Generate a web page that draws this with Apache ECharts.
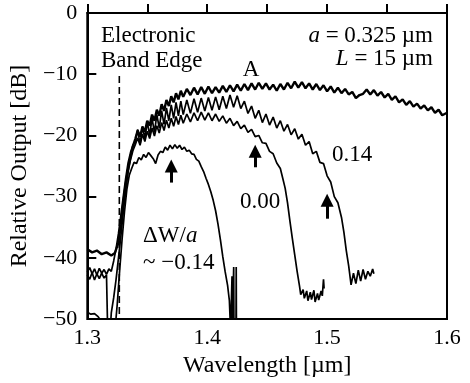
<!DOCTYPE html>
<html>
<head>
<meta charset="utf-8">
<script src="https://cdn.jsdelivr.net/npm/echarts@6/dist/echarts.min.js"></script>
<style>
  html, body { margin: 0; background: #fff; }
  #chart { width: 470px; height: 383px; }
</style>
</head>
<body>
<div id="chart"></div>
<script>
// =====================
// Data  [wavelength um, dB]
// =====================
const curveA = [
  [1.300,-38.6],[1.304,-39.1],[1.308,-38.8],[1.312,-39.4],[1.316,-39.1],[1.320,-39.6],[1.323,-39.2],
  [1.326,-37.5],[1.328,-34.5],[1.330,-31.0],[1.332,-28.0],[1.334,-25.5],[1.336,-23.5],[1.338,-21.8],
  [1.340,-20.6],[1.342,-19.2],[1.344,-20.2],[1.346,-18.6],[1.348,-19.4],[1.350,-17.6],[1.352,-18.4],
  [1.354,-16.6],[1.356,-17.6],[1.358,-15.8],[1.360,-16.8],[1.362,-14.9],[1.364,-16.0],[1.366,-14.2],
  [1.368,-15.2],[1.370,-13.6],[1.372,-14.6],[1.374,-13.1],[1.376,-14.1],[1.378,-12.7],[1.380,-13.7],
  [1.383,-12.4],[1.386,-13.4],[1.389,-12.2],[1.392,-13.3],[1.395,-12.1],[1.398,-13.2],[1.401,-12.0],
  [1.404,-13.1],[1.407,-12.1],[1.410,-13.0],[1.413,-11.9],[1.416,-12.9],[1.419,-11.8],[1.422,-12.8],
  [1.425,-11.7],[1.428,-12.7],[1.431,-11.6],[1.434,-12.6],[1.437,-11.5],[1.440,-12.5],[1.443,-11.4],
  [1.446,-12.4],[1.449,-11.5],[1.452,-12.5],[1.455,-11.7],[1.458,-12.7],[1.461,-11.6],[1.464,-12.5],
  [1.467,-11.4],[1.470,-12.3],[1.473,-11.2],[1.476,-12.2],[1.479,-11.3],[1.482,-12.3],[1.485,-11.5],
  [1.488,-12.5],[1.491,-11.6],[1.494,-12.6],[1.497,-11.8],[1.500,-12.8],[1.503,-12.0],[1.506,-13.0],
  [1.509,-12.2],[1.512,-13.1],[1.515,-12.4],[1.518,-13.3],[1.521,-12.9],[1.524,-13.9],[1.527,-13.4],
  [1.530,-13.2],[1.533,-12.5],[1.536,-13.3],[1.539,-12.6],[1.542,-13.5],[1.545,-12.9],[1.548,-13.8],
  [1.551,-13.2],[1.554,-14.2],[1.557,-13.6],[1.560,-14.6],[1.563,-14.1],[1.566,-15.0],[1.569,-14.4],
  [1.572,-15.3],[1.575,-14.8],[1.578,-15.6],[1.581,-15.1],[1.584,-15.9],[1.587,-15.4],[1.590,-16.3],
  [1.593,-15.8],[1.596,-16.7],[1.600,-16.3]
]

const curveP14 = [
  [1.300,-42.3],[1.302,-41.6],[1.304,-42.6],[1.306,-41.8],[1.308,-42.8],[1.310,-41.7],[1.312,-42.5],
  [1.314,-41.9],[1.316,-42.7],[1.318,-41.8],[1.320,-42.2],[1.322,-40.5],[1.324,-38.5],[1.326,-36.0],
  [1.328,-33.0],[1.330,-30.0],[1.332,-27.0],[1.334,-24.5],[1.336,-22.8],[1.338,-21.6],[1.340,-21.0],
  [1.342,-19.0],[1.344,-21.5],[1.346,-18.5],[1.348,-20.5],[1.350,-17.8],[1.352,-20.0],[1.354,-17.2],
  [1.356,-19.5],[1.358,-16.6],[1.360,-18.8],[1.362,-16.0],[1.364,-18.2],[1.366,-15.5],[1.368,-17.6],
  [1.370,-15.0],[1.372,-17.2],[1.374,-14.6],[1.376,-16.8],[1.378,-14.4],[1.380,-16.6],[1.383,-14.2],
  [1.386,-16.4],[1.389,-14.0],[1.392,-16.2],[1.395,-13.9],[1.398,-16.0],[1.401,-13.8],[1.404,-15.9],
  [1.407,-13.7],[1.410,-15.8],[1.413,-13.6],[1.416,-15.6],[1.419,-13.4],[1.422,-15.4],[1.425,-13.5],
  [1.428,-15.6],[1.431,-14.4],[1.434,-16.4],[1.437,-15.2],[1.440,-17.2],[1.443,-15.9],[1.446,-17.9],
  [1.449,-16.5],[1.452,-18.3],[1.455,-17.0],[1.458,-18.8],[1.461,-17.6],[1.464,-19.3],[1.467,-18.2],
  [1.470,-19.9],[1.473,-18.9],[1.476,-20.6],[1.479,-19.8],[1.482,-21.6],[1.485,-21.0],[1.488,-23.0],
  [1.491,-22.6],[1.494,-24.4],[1.497,-24.6],[1.500,-26.6],[1.503,-27.6],[1.506,-30.0],[1.509,-31.0],
  [1.512,-33.4],[1.514,-35.8],[1.516,-38.8],[1.518,-41.3],[1.520,-44.4],[1.522,-42.5],[1.524,-44.2],
  [1.526,-42.0],[1.528,-43.8],[1.530,-41.9],[1.532,-43.5],[1.534,-42.2],[1.536,-43.0],[1.538,-41.8],
  [1.539,-42.6]
]

const curve000 = [
  [1.300,-42.8],[1.302,-43.5],[1.304,-42.4],[1.306,-43.6],[1.308,-42.6],[1.310,-43.4],[1.312,-42.5],
  [1.314,-43.3],[1.316,-42.8],[1.317,-52],[1.319,-52],[1.320,-49.0],[1.322,-46.5],[1.324,-43.5],
  [1.326,-40.0],[1.328,-36.5],[1.330,-32.5],[1.332,-29.0],[1.334,-26.0],[1.336,-24.0],[1.338,-22.5],
  [1.340,-21.5],[1.342,-20.4],[1.344,-21.6],[1.346,-19.8],[1.348,-21.0],[1.350,-19.3],[1.352,-20.5],
  [1.354,-18.8],[1.356,-20.1],[1.358,-18.4],[1.360,-19.6],[1.362,-17.9],[1.364,-19.2],[1.366,-17.5],
  [1.368,-18.8],[1.370,-17.2],[1.372,-18.5],[1.374,-16.9],[1.376,-18.2],[1.378,-16.7],[1.380,-18.0],
  [1.383,-16.5],[1.386,-17.8],[1.389,-16.3],[1.392,-17.6],[1.395,-16.2],[1.398,-17.5],[1.401,-16.3],
  [1.404,-17.6],[1.407,-16.5],[1.410,-17.7],[1.413,-16.8],[1.416,-18.0],[1.419,-17.2],[1.422,-18.4],
  [1.425,-17.7],[1.428,-18.9],[1.431,-18.3],[1.434,-19.5],[1.437,-19.0],[1.440,-20.2],[1.443,-20.0],
  [1.446,-21.2],[1.449,-21.3],[1.452,-22.6],[1.455,-23.0],[1.458,-24.5],[1.461,-25.4],[1.463,-27.0],
  [1.465,-28.6],[1.467,-31.0],[1.469,-34.0],[1.471,-36.8],[1.473,-39.5],[1.475,-42.2],[1.477,-44.6],
  [1.478,-46.0],[1.480,-45.2],[1.481,-46.6],[1.483,-45.4],[1.484,-47.0],[1.486,-45.6],[1.487,-46.8],
  [1.489,-45.3],[1.490,-47.2],[1.492,-45.8],[1.493,-46.9],[1.495,-45.4],[1.496,-46.2],[1.497,-43.5],
  [1.4975,-45.0]
]

const curveM14 = [
  [1.300,-48.9],[1.303,-49.2],[1.306,-49.1],[1.309,-49.6],[1.311,-50.2],[1.313,-52],[1.323,-52],
  [1.325,-47.5],[1.327,-42.0],[1.329,-37.0],[1.331,-32.5],[1.333,-28.8],[1.335,-26.5],[1.337,-25.4],
  [1.339,-24.4],[1.341,-24.6],[1.343,-23.6],[1.345,-24.0],[1.347,-23.1],[1.349,-23.6],[1.351,-22.8],
  [1.353,-23.3],[1.355,-23.8],[1.357,-24.6],[1.359,-23.2],[1.361,-22.6],[1.363,-22.8],[1.365,-21.9],
  [1.367,-22.4],[1.369,-21.6],[1.371,-22.2],[1.373,-21.5],[1.375,-22.1],[1.377,-21.6],[1.379,-22.3],
  [1.381,-21.9],[1.383,-22.6],[1.385,-22.4],[1.387,-23.0],[1.389,-23.1],[1.391,-23.9],[1.393,-24.2],
  [1.395,-25.1],[1.397,-25.9],[1.399,-27.0],[1.401,-28.0],[1.403,-29.2],[1.405,-30.6],[1.407,-32.3],
  [1.409,-34.5],[1.411,-37.0],[1.413,-39.8],[1.415,-42.3],[1.417,-44.5],[1.4185,-47.0],[1.4195,-52],
  [1.4205,-52],[1.4207,-43.0],[1.4209,-52],[1.4219,-52],[1.4221,-41.5],[1.4223,-52],[1.4240,-52],
  [1.4242,-41.5],[1.4244,-52]
]

// electronic band edge (dashed), x and y span
const bandEdgeX = 1.3267
const bandEdgeY = [-10.3, -50]

// arrows: [x, tail y, head y]
const arrows = [
  [1.370, -27.7, -25.0],
  [1.440, -25.2, -22.6],
  [1.500, -33.6, -30.6]
]

const xTicks = { min: 1.3, max: 1.6, step: 0.1 }
const yTicks = { min: -50, max: 0, step: 10 }

// =====================
// Chart
// =====================
const FONT = "'Liberation Serif', 'Times New Roman', serif"
const chart = echarts.init(document.getElementById("chart"))

function lineSeries(data, w) {
  return {
    type: "line",
    data: data,
    showSymbol: false,
    silent: true,
    clip: true,
    lineStyle: { color: "#000", width: w }
  }
}

function txt(text, x, y, align, size) {
  return {
    type: "text",
    x: x, y: y,
    silent: true,
    style: {
      text: text,
      fill: "#000",
      font: `${size || 23}px ${FONT}`,
      align: align || "left",
      verticalAlign: "middle",
      rich: {
        i: { fontStyle: "italic", fontSize: size || 23, fontFamily: FONT }
      }
    }
  }
}

const option = {
  animation: false,
  grid: {
    left: 87, right: 23, top: 13, bottom: 59,
    show: true, borderColor: "#000", borderWidth: 2
  },
  xAxis: {
    type: "value",
    min: xTicks.min, max: xTicks.max, interval: xTicks.step,
    name: "Wavelength [\u00b5m]",
    nameLocation: "middle",
    nameGap: 30,
    nameTextStyle: { fontFamily: FONT, fontSize: 24, color: "#000" },
    axisLine: { lineStyle: { color: "#000", width: 2 } },
    axisTick: { inside: true, length: 9, lineStyle: { color: "#000", width: 2 } },
    minorTick: { show: true, splitNumber: 2, length: 9, lineStyle: { color: "#000", width: 2 } },
    splitLine: { show: false },
    axisLabel: {
      margin: 8, color: "#000", fontFamily: FONT, fontSize: 22,
      formatter: v => v.toFixed(1)
    }
  },
  yAxis: {
    type: "value",
    min: yTicks.min, max: yTicks.max, interval: yTicks.step,
    name: "Relative Output [dB]",
    nameLocation: "middle",
    nameGap: 46,
    nameTextStyle: { fontFamily: FONT, fontSize: 24, color: "#000" },
    axisLine: { lineStyle: { color: "#000", width: 2 } },
    axisTick: { inside: true, length: 9, lineStyle: { color: "#000", width: 2 } },
    splitLine: { show: false },
    axisLabel: {
      margin: 10, color: "#000", fontFamily: FONT, fontSize: 22,
      formatter: v => v < 0 ? "\u2212" + Math.abs(v) : String(v)
    }
  },
  series: [
    lineSeries(curveA, 2.4),
    lineSeries(curveP14, 1.7),
    lineSeries(curve000, 1.7),
    lineSeries(curveM14, 1.7),
    {
      type: "line",
      data: bandEdgeY.map(y => [bandEdgeX, y]),
      showSymbol: false,
      silent: true,
      lineStyle: { color: "#000", width: 1.6, type: [7, 4] }
    },
    {
      type: "line",
      data: [],
      silent: true,
      markLine: {
        silent: true,
        animation: false,
        symbol: ["none", "triangle"],
        symbolSize: 13,
        label: { show: false },
        lineStyle: { color: "#000", width: 3, type: "solid" },
        data: arrows.map(a => [{ coord: [a[0], a[1]] }, { coord: [a[0], a[2]] }])
      }
    }
  ],
  graphic: [
    txt("Electronic", 101, 36),
    txt("Band Edge", 101, 61),
    txt("{i|a} = 0.325 \u00b5m", 433, 36, "right"),
    txt("{i|L} = 15 \u00b5m", 433, 59, "right"),
    txt("A", 251, 70, "center"),
    txt("0.14", 332, 155),
    txt("0.00", 240, 202),
    txt("\u0394W/{i|a}", 143, 236),
    txt("~ \u22120.14", 143, 263)
  ]
}

chart.setOption(option)
</script>
</body>
</html>
